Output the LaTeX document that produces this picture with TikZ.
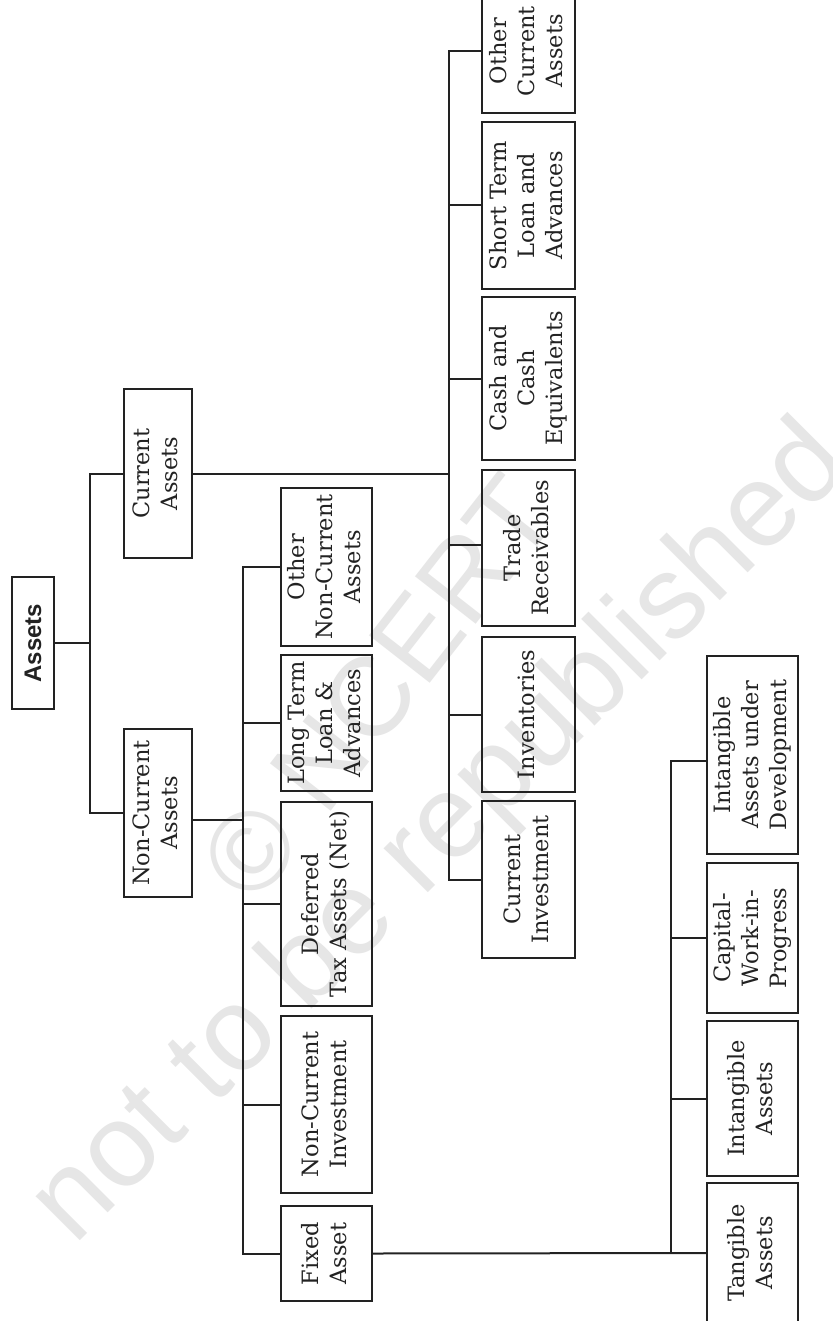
\documentclass[tikz,border=0pt]{standalone}
\usepackage{fontspec}
\usepackage{graphicx}
\setmainfont{DejaVu Serif}
\newfontfamily\headfont{Liberation Sans}
\usetikzlibrary{calc}
\definecolor{ink}{HTML}{222222}
\definecolor{wm}{HTML}{E6E6E6}
\newcommand{\vtext}[1]{\rotatebox{90}{\begin{tabular}{@{}c@{}}#1\end{tabular}}}
\tikzset{
  box/.style={draw=ink, line width=2pt, rectangle, inner sep=0pt, text=ink,
    font=\fontsize{22.5}{28}\selectfont},
  link/.style={draw=ink, line width=2pt},
  wmark/.style={text=wm, font=\headfont, inner sep=0pt}
}
\begin{document}
\begin{tikzpicture}[x=1pt,y=-1pt]
\clip (0,0) rectangle (832,1321);
\fill[white] (0,0) rectangle (832,1321);
% watermark
\node[wmark, rotate=52, font=\headfont\fontsize{112}{112}\selectfont] (wma) at (378,688) {© NCERT};
\node[wmark, rotate=45, font=\headfont\fontsize{118}{118}\selectfont] (wmb) at (443,835) {not to be republished};
% bus coordinates
\coordinate (b1) at (90,0);
\coordinate (b2) at (449,0);
\coordinate (b3) at (243,0);
\coordinate (b4) at (671,0);
% root
\node[box, minimum width=42pt, minimum height=132pt] (assets) at (33,643)
  {\rotatebox{90}{\headfont\bfseries\fontsize{24}{28}\selectfont Assets}};
% level 1
\node[box, minimum width=68pt, minimum height=169pt] (ca) at (158,473.5) {\vtext{Current\\Assets}};
\node[box, minimum width=68pt, minimum height=168pt] (nca) at (158,813) {\vtext{Non-Current\\Assets}};
% non-current children
\node[box, minimum width=91pt, minimum height=158pt] (onca) at (326.5,567) {\vtext{Other\\Non-Current\\Assets}};
\node[box, minimum width=91pt, minimum height=136pt] (ltl) at (326.5,723) {\vtext{Long Term\\Loan \&\\Advances}};
\node[box, minimum width=91pt, minimum height=204pt] (dta) at (326.5,904) {\vtext{Deferred\\Tax Assets (Net)}};
\node[box, minimum width=91pt, minimum height=177pt] (nci) at (326.5,1104.5) {\vtext{Non-Current\\Investment}};
\node[box, minimum width=91pt, minimum height=95pt] (fa) at (326.5,1253.5) {\vtext{Fixed\\Asset}};
% current children
\node[box, minimum width=93pt, minimum height=124pt] (oca) at (528.5,51) {\vtext{Other\\Current\\Assets}};
\node[box, minimum width=93pt, minimum height=167pt] (stl) at (528.5,205.5) {\vtext{Short Term\\Loan and\\Advances}};
\node[box, minimum width=93pt, minimum height=163pt] (cce) at (528.5,378.5) {\vtext{Cash and\\Cash\\Equivalents}};
\node[box, minimum width=93pt, minimum height=156pt] (tr) at (528.5,548) {\vtext{Trade\\Receivables}};
\node[box, minimum width=93pt, minimum height=155pt] (inv) at (528.5,714.5) {\vtext{Inventories}};
\node[box, minimum width=93pt, minimum height=157pt] (ci) at (528.5,879.5) {\vtext{Current\\Investment}};
% fixed asset children
\node[box, minimum width=91pt, minimum height=198pt] (iaud) at (752.5,755) {\vtext{Intangible\\Assets under\\Development}};
\node[box, minimum width=91pt, minimum height=150pt] (cwip) at (752.5,938) {\vtext{Capital-\\Work-in-\\Progress}};
\node[box, minimum width=91pt, minimum height=155pt] (ia) at (752.5,1098.5) {\vtext{Intangible\\Assets}};
\node[box, minimum width=91pt, minimum height=140pt] (ta) at (752.5,1253) {\vtext{Tangible\\Assets}};
% connectors: root
\draw[link] (assets.east) -- (assets.east -| b1);
\draw[link] (ca.west) -- (ca.west -| b1) -- (nca.west -| b1) -- (nca.west);
% current assets
\draw[link] (ca.east) -- (ca.east -| b2);
\draw[link] (oca.west) -- (oca.west -| b2) -- (ci.west -| b2) -- (ci.west);
\draw[link] (stl.west) -- (stl.west -| b2);
\draw[link] (cce.west) -- (cce.west -| b2);
\draw[link] ($(tr.west)+(0,-3)$) -- ($(tr.west -| b2)+(0,-3)$);
\draw[link] (inv.west) -- (inv.west -| b2);
% non-current assets
\draw[link] ($(nca.east)+(0,7)$) -- ($(nca.east -| b3)+(0,7)$);
\draw[link] (onca.west) -- (onca.west -| b3) -- (fa.west -| b3) -- (fa.west);
\draw[link] (ltl.west) -- (ltl.west -| b3);
\draw[link] (dta.west) -- (dta.west -| b3);
\draw[link] (nci.west) -- (nci.west -| b3);
% fixed asset
\draw[link] (fa.east) -- (ta.west);
\draw[link] ($(iaud.west)+(0,6)$) -- ($(iaud.west -| b4)+(0,6)$) -- (ta.west -| b4);
\draw[link] (cwip.west) -- (cwip.west -| b4);
\draw[link] (ia.west) -- (ia.west -| b4);
\end{tikzpicture}
\end{document}
